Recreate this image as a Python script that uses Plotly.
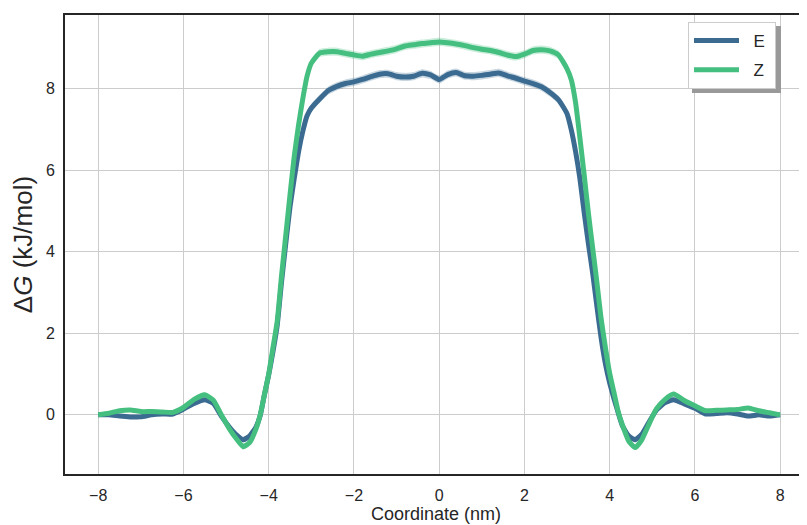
import plotly.graph_objects as go

# ---------------- data ----------------
coord = [-8.0, -7.75, -7.5, -7.25, -7.0, -6.75, -6.5, -6.25, -6.0, -5.75,
         -5.5, -5.3, -5.1, -4.9, -4.75, -4.6, -4.45, -4.3, -4.2, -4.1,
         -4.0, -3.9, -3.8, -3.7, -3.6, -3.5, -3.4, -3.3, -3.2, -3.1,
         -3.0, -2.8, -2.6, -2.4, -2.2, -2.0, -1.8, -1.6, -1.4, -1.2,
         -1.0, -0.8, -0.6, -0.4, -0.2, 0.0, 0.2, 0.4, 0.6, 0.8,
         1.0, 1.2, 1.4, 1.6, 1.8, 2.0, 2.2, 2.4, 2.6, 2.8,
         3.0, 3.1, 3.2, 3.3, 3.4, 3.5, 3.6, 3.7, 3.8, 3.9,
         4.0, 4.1, 4.2, 4.3, 4.45, 4.6, 4.75, 4.9, 5.1, 5.3,
         5.5, 5.75, 6.0, 6.25, 6.5, 6.75, 7.0, 7.25, 7.5, 7.75, 8.0]

dG_E = [0.00, 0.00, -0.03, -0.05, -0.05, 0.00, 0.02, 0.02, 0.14, 0.28,
        0.37, 0.28, -0.05, -0.33, -0.50, -0.61, -0.52, -0.30, -0.02, 0.50,
        0.98, 1.55, 2.20, 3.25, 4.20, 5.10, 5.80, 6.45, 6.95, 7.33,
        7.52, 7.75, 7.95, 8.05, 8.12, 8.16, 8.22, 8.29, 8.35, 8.36,
        8.30, 8.28, 8.30, 8.37, 8.33, 8.22, 8.34, 8.39, 8.31, 8.30,
        8.32, 8.35, 8.38, 8.31, 8.25, 8.18, 8.12, 8.04, 7.90, 7.72,
        7.38, 6.98, 6.45, 5.80, 4.97, 4.20, 3.48, 2.66, 1.88, 1.25,
        0.78, 0.40, 0.05, -0.27, -0.52, -0.61, -0.48, -0.22, 0.12, 0.30,
        0.37, 0.27, 0.16, 0.02, 0.03, 0.05, 0.02, -0.03, 0.00, -0.03, 0.00]

dG_Z = [0.00, 0.04, 0.10, 0.12, 0.08, 0.08, 0.07, 0.06, 0.18, 0.38,
        0.49, 0.36, -0.02, -0.38, -0.60, -0.78, -0.68, -0.35, 0.00, 0.50,
        1.00, 1.65, 2.30, 3.40, 4.40, 5.40, 6.35, 7.10, 7.75, 8.30,
        8.62, 8.87, 8.90, 8.90, 8.86, 8.82, 8.79, 8.84, 8.88, 8.92,
        8.97, 9.04, 9.07, 9.10, 9.12, 9.14, 9.12, 9.09, 9.05, 9.00,
        8.96, 8.93, 8.88, 8.82, 8.78, 8.84, 8.93, 8.95, 8.92, 8.82,
        8.48, 8.21, 7.65, 6.80, 5.90, 4.95, 4.10, 3.25, 2.35, 1.65,
        1.02, 0.55, 0.08, -0.25, -0.65, -0.80, -0.62, -0.28, 0.15, 0.38,
        0.51, 0.35, 0.22, 0.10, 0.11, 0.12, 0.13, 0.17, 0.10, 0.05, 0.00]

err_E = [0.02, 0.03, 0.03, 0.04, 0.04, 0.04, 0.04, 0.05, 0.05, 0.06,
         0.06, 0.06, 0.06, 0.06, 0.07, 0.07, 0.07, 0.07, 0.07, 0.07,
         0.07, 0.07, 0.08, 0.08, 0.08, 0.08, 0.08, 0.09, 0.09, 0.09,
         0.10, 0.10, 0.10, 0.10, 0.10, 0.10, 0.10, 0.10, 0.10, 0.10,
         0.10, 0.10, 0.10, 0.10, 0.10, 0.10, 0.10, 0.10, 0.10, 0.10,
         0.10, 0.10, 0.10, 0.10, 0.10, 0.10, 0.10, 0.10, 0.10, 0.10,
         0.10, 0.09, 0.09, 0.09, 0.08, 0.08, 0.08, 0.08, 0.08, 0.07,
         0.07, 0.07, 0.07, 0.07, 0.07, 0.07, 0.07, 0.06, 0.06, 0.06,
         0.06, 0.06, 0.05, 0.05, 0.04, 0.04, 0.04, 0.04, 0.03, 0.03, 0.02]

err_Z = [0.02, 0.03, 0.03, 0.04, 0.04, 0.04, 0.04, 0.05, 0.05, 0.06,
         0.06, 0.06, 0.06, 0.06, 0.07, 0.07, 0.07, 0.07, 0.07, 0.07,
         0.07, 0.07, 0.08, 0.08, 0.08, 0.08, 0.08, 0.09, 0.09, 0.09,
         0.10, 0.10, 0.10, 0.10, 0.10, 0.10, 0.10, 0.10, 0.10, 0.10,
         0.10, 0.10, 0.10, 0.10, 0.10, 0.10, 0.10, 0.10, 0.10, 0.10,
         0.10, 0.10, 0.10, 0.10, 0.10, 0.10, 0.10, 0.10, 0.10, 0.10,
         0.10, 0.09, 0.09, 0.09, 0.08, 0.08, 0.08, 0.08, 0.08, 0.07,
         0.07, 0.07, 0.07, 0.07, 0.07, 0.07, 0.07, 0.06, 0.06, 0.06,
         0.06, 0.06, 0.05, 0.05, 0.04, 0.04, 0.04, 0.04, 0.03, 0.03, 0.02]

x_ticks = [-8, -6, -4, -2, 0, 2, 4, 6, 8]
y_ticks = [0, 2, 4, 6, 8]

assert len(coord) == len(dG_E) == len(dG_Z) == len(err_E) == len(err_Z)

series = [
    ("E", dG_E, err_E, "#3b6b91", "rgba(59,107,145,0.28)"),
    ("Z", dG_Z, err_Z, "#45bf7f", "rgba(69,191,127,0.28)"),
]

FONT = "Liberation Sans, Arial, sans-serif"
TXT = "#262626"
NB = "\u00a0"

fig = go.Figure()
for name, vals, err, col, band in series:
    upper = [v + e for v, e in zip(vals, err)]
    lower = [v - e for v, e in zip(vals, err)]
    fig.add_trace(go.Scatter(x=coord, y=upper, mode="lines",
                             line=dict(width=0, shape="spline", smoothing=0.5),
                             hoverinfo="skip", showlegend=False))
    fig.add_trace(go.Scatter(x=coord, y=lower, mode="lines",
                             line=dict(width=0, shape="spline", smoothing=0.5),
                             fill="tonexty", fillcolor=band,
                             hoverinfo="skip", showlegend=False))
    fig.add_trace(go.Scatter(x=coord, y=vals, mode="lines",
                             name=NB + NB + name + NB,
                             legendgroup=name,
                             line=dict(color=col, width=5, shape="spline",
                                       smoothing=0.5)))

# the page body adds an 8 px offset; the figure fills the rest of the window
OFF = 8
W, H = 807 - OFF, 525 - OFF
L, R, T, B = 65 - OFF, 0, 15 - OFF, 51
pw, ph = W - L - R, H - T - B

def px_x(p):
    return (p - OFF - L) / pw

def px_y(p):
    return (H - B - (p - OFF)) / ph

# legend frame position (window pixels) and its drop shadow
lg_l, lg_t, lg_r, lg_b = 688, 22, 777, 89
sh = 4
fig.add_shape(type="rect", xref="paper", yref="paper", layer="above",
              x0=px_x(lg_l + sh), x1=px_x(lg_r + sh),
              y0=px_y(lg_b + sh), y1=px_y(lg_t + sh),
              fillcolor="#999999", line=dict(width=0))

fig.update_layout(
    width=W, height=H,
    margin=dict(l=L, r=R, t=T, b=B, autoexpand=False),
    paper_bgcolor="white", plot_bgcolor="white",
    font=dict(family=FONT, color=TXT, size=16),
    showlegend=True,
    legend=dict(x=px_x(lg_l), y=px_y(lg_t), xanchor="left", yanchor="top",
                bgcolor="white", bordercolor="#cccccc", borderwidth=1,
                font=dict(size=17, color=TXT), tracegroupgap=4,
                itemwidth=45),
    xaxis=dict(range=[-8.78, 8.63], tickvals=x_ticks, automargin=False,
               showgrid=True, gridcolor="#cccccc", gridwidth=1,
               zeroline=False, showline=True, linecolor=TXT, linewidth=2,
               mirror=True, ticks="outside", ticklen=6,
               tickcolor="rgba(0,0,0,0)", tickfont=dict(size=16, color=TXT),
               title=dict(text="Coordinate (nm)", font=dict(size=18, color=TXT),
                          standoff=4)),
    yaxis=dict(range=[-1.45, 9.8], tickvals=y_ticks, automargin=False,
               showgrid=True, gridcolor="#cccccc", gridwidth=1,
               zeroline=False, showline=True, linecolor=TXT, linewidth=2,
               mirror=False, ticks="outside", ticklen=5,
               tickcolor="rgba(0,0,0,0)", tickfont=dict(size=16, color=TXT),
               title=dict(text="Δ<i>G</i> (kJ/mol)", font=dict(size=26, color=TXT),
                          standoff=8)),
)

fig.write_html("out.html")
